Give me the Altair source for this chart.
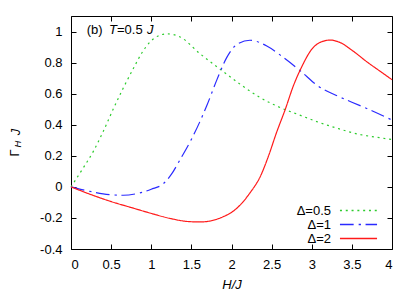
import altair as alt
import pandas as pd

# ---- data ----
series_labels = ["Δ=0.5", "Δ=1", "Δ=2"]

H_d05 = [0, 0.15, 0.28, 0.40, 0.53, 0.65, 0.78, 0.88, 0.98, 1.10, 1.20, 1.36, 1.61,
         1.86, 2.11, 2.36, 2.61, 2.86, 3.08, 3.3, 3.6, 3.8, 4.0]
G_d05 = [0, 0.12, 0.23, 0.355, 0.505, 0.635, 0.765, 0.86, 0.93, 0.975, 0.985, 0.965, 0.856,
         0.757, 0.66, 0.574, 0.51, 0.46, 0.417, 0.38, 0.337, 0.32, 0.305]

H_d1 = [0, 0.2, 0.4, 0.65, 0.85, 1.0, 1.15, 1.25, 1.36, 1.52, 1.69, 1.82, 1.94, 2.07,
        2.23, 2.44, 2.65, 2.86, 3.08, 3.3, 3.5, 3.75, 4.0]
G_d1 = [0, -0.025, -0.045, -0.054, -0.04, -0.015, 0.02, 0.08, 0.176, 0.326, 0.52, 0.692, 0.832, 0.918,
        0.944, 0.907, 0.832, 0.746, 0.649, 0.59, 0.545, 0.49, 0.43]

H_d2 = [0, 0.25, 0.49, 0.75, 0.98, 1.25, 1.48, 1.61, 1.86, 2.07, 2.23, 2.36, 2.46, 2.56,
        2.67, 2.77, 2.88, 3.0, 3.10, 3.23, 3.35, 3.5, 3.7, 3.85, 4.0]
G_d2 = [0, -0.05, -0.093, -0.133, -0.168, -0.205, -0.224, -0.226, -0.20, -0.136, -0.039, 0.068, 0.197, 0.348,
        0.499, 0.649, 0.778, 0.886, 0.929, 0.945, 0.93, 0.88, 0.80, 0.745, 0.69]

x_ticks = [0, 0.5, 1, 1.5, 2, 2.5, 3, 3.5, 4]
y_ticks = [-0.4, -0.2, 0, 0.2, 0.4, 0.6, 0.8, 1]

colors = ["#2ecc2e", "#2a2aff", "#ff1a1a"]
dashes = [[2, 3.8], [13.7, 5, 2.3, 4.6], [1, 0]]

rows = []
for lab, hs, gs in zip(series_labels, [H_d05, H_d1, H_d2], [G_d05, G_d1, G_d2]):
    for i, (h, g) in enumerate(zip(hs, gs)):
        rows.append({"H": h, "G": g, "series": lab, "order": i})
df = pd.DataFrame(rows)

FONT = "Liberation Sans"
xscale = alt.Scale(domain=[0, 4], nice=False)
yscale = alt.Scale(domain=[-0.4, 1.1], nice=False)

axis_common = dict(
    tickSize={"expr": "-5"}, grid=False, domainColor="black", tickColor="black",
    domainWidth=1, tickWidth=1,
    labelFont=FONT, labelFontSize=13, labelColor="black",
)

# wide horizontal stroke as legend sample (custom path, scaled by sqrt(size)/2)
legend_def = alt.Legend(
    title=None, orient="none", legendX=281, legendY=188, direction="vertical",
    labelAlign="right", labelOffset={"expr": "-34"}, symbolType="M-5,0L5,0",
    symbolSize=55, symbolStrokeWidth=1.5, rowPadding=0, padding=0,
    labelFont=FONT, labelFontSize=13, labelColor="black", labelBaseline="middle",
)

lines = alt.Chart(df).mark_line(strokeWidth=1.2, interpolate="monotone").encode(
    x=alt.X("H:Q", scale=xscale, axis=alt.Axis(
        values=x_ticks, labelExpr="'' + datum.value", labelPadding=14,
        title="H/J", titleFont=FONT, titleFontSize=13, titleFontStyle="italic",
        titleFontWeight="normal", titleColor="black", titleY=39, titleBaseline="alphabetic",
        **axis_common)),
    y=alt.Y("G:Q", scale=yscale, axis=alt.Axis(
        values=y_ticks, labelExpr="'' + datum.value", labelPadding=14, title=None,
        **axis_common)),
    color=alt.Color("series:N", scale=alt.Scale(domain=series_labels, range=colors), legend=legend_def),
    strokeDash=alt.StrokeDash("series:N", scale=alt.Scale(domain=series_labels, range=dashes), legend=legend_def),
    order="order:Q",
)

mirror = alt.Chart(df).mark_line(opacity=0).encode(
    x=alt.X("H:Q", scale=xscale, axis=alt.Axis(orient="top", values=x_ticks, labels=False, title=None, **axis_common)),
    y=alt.Y("G:Q", scale=yscale, axis=alt.Axis(orient="right", values=y_ticks, labels=False, title=None, **axis_common)),
    detail="series:N",
)


def txt(s, x, y, size=13, style="normal", angle=0, align="left", baseline="alphabetic"):
    kw = dict(font=FONT, fontSize=size, fontStyle=style, color="black", align=align, baseline=baseline)
    if angle:
        kw["angle"] = angle
    return alt.Chart(pd.DataFrame({"t": [s]})).mark_text(**kw).encode(
        x=alt.value(x), y=alt.value(y), text="t:N")


texts = [
    txt("(b)", 15.7, 17.7),
    txt("T", 38, 17.7, style="italic"),
    txt("=0.5", 46, 17.7),
    txt("J", 76, 17.7, style="italic"),
    txt("Γ", -56.5, 137, angle=270, align="center", baseline="middle"),
    txt("H", -53.5, 128, size=9.5, style="italic", angle=270, align="center", baseline="middle"),
    txt("J", -55.5, 116, style="italic", angle=270, align="center", baseline="middle"),
]

chart = alt.layer(lines, mirror, *texts).resolve_axis(x="independent", y="independent").properties(
    width=321, height=233,
    autosize=alt.AutoSizeParams(type="none"),
    padding={"left": 63, "top": 8, "right": 8, "bottom": 42},
    background="white",
).configure_view(stroke=None)

chart.save("out.html", embed_options={"renderer": "svg", "actions": False})
